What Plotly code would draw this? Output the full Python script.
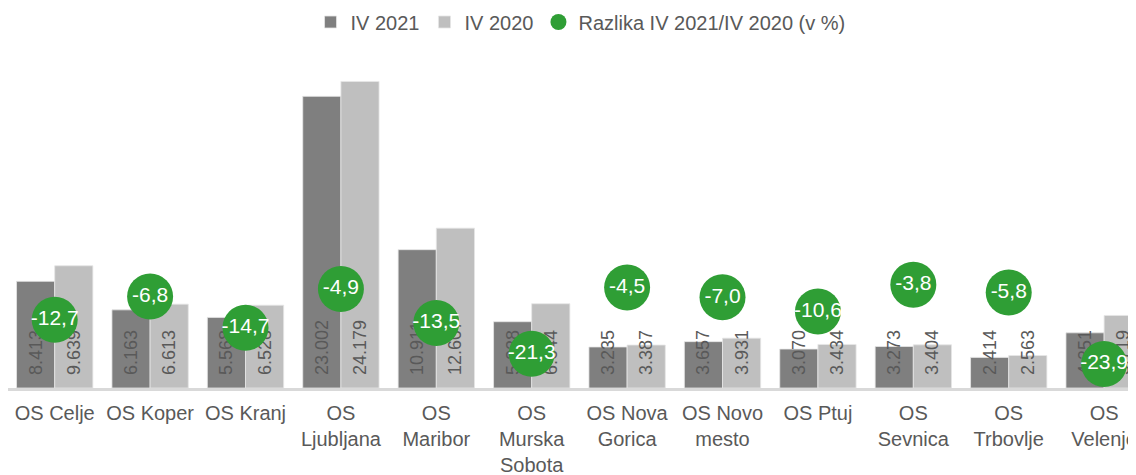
import plotly.graph_objects as go

categories = ["OS Celje", "OS Koper", "OS Kranj", "OS Ljubljana", "OS Maribor",
              "OS Murska Sobota", "OS Nova Gorica", "OS Novo mesto", "OS Ptuj",
              "OS Sevnica", "OS Trbovlje", "OS Velenje"]
tick_labels = ["OS Celje", "OS Koper", "OS Kranj", "OS<br>Ljubljana", "OS<br>Maribor",
               "OS<br>Murska<br>Sobota", "OS Nova<br>Gorica", "OS Novo<br>mesto", "OS Ptuj",
               "OS<br>Sevnica", "OS<br>Trbovlje", "OS<br>Velenje"]
iv2021 = [8413, 6163, 5568, 23002, 10911, 5228, 3235, 3657, 3070, 3273, 2414, 4351]
iv2020 = [9639, 6613, 6528, 24179, 12607, 6644, 3387, 3931, 3434, 3404, 2563, 5719]
razlika = [-12.7, -6.8, -14.7, -4.9, -13.5, -21.3, -4.5, -7.0, -10.6, -3.8, -5.8, -23.9]

DARK = "#7F7F7F"
LIGHT = "#BFBFBF"
GREEN = "#2F9E35"
TXT = "#595959"
FONT = "Liberation Sans, Arial, sans-serif"

x = list(range(len(categories)))
PAD = "\u00a0\u00a0"

def thou(v):
    return PAD + f"{v:,}".replace(",", ".")

def dec(v):
    return f"{v:.1f}".replace(".", ",")

bar_common = dict(textposition="inside", insidetextanchor="start", textangle=-90,
                  constraintext="none", cliponaxis=False,
                  insidetextfont=dict(color=TXT, size=18, family=FONT), hoverinfo="skip")

fig = go.Figure()
fig.add_trace(go.Bar(x=x, y=iv2021, name="IV 2021", text=[thou(v) for v in iv2021],
                     marker=dict(color=DARK, line=dict(color="#E6E6E6", width=0.8)), **bar_common))
fig.add_trace(go.Bar(x=x, y=iv2020, name="IV 2020", text=[thou(v) for v in iv2020],
                     marker=dict(color=LIGHT, line=dict(color="#E6E6E6", width=0.8)), **bar_common))
fig.add_trace(go.Scatter(x=x, y=razlika, name="Razlika IV 2021/IV 2020 (v %)", mode="markers",
                         marker=dict(color=GREEN, size=46), yaxis="y2"))
fig.add_trace(go.Scatter(x=x, y=razlika, mode="text", text=[dec(v) for v in razlika],
                         textfont=dict(color="white", size=21, family=FONT), yaxis="y2",
                         showlegend=False))

fig.update_layout(
    width=1136, height=475,
    margin=dict(l=0, r=0, t=0, b=95, autoexpand=False),
    paper_bgcolor="white", plot_bgcolor="white",
    barmode="group", bargap=0.2, bargroupgap=0,
    font=dict(family=FONT, color=TXT, size=20),
    legend=dict(orientation="h", x=0.504, xanchor="center", y=1 - 14 / 380, yanchor="middle",
                font=dict(size=20, color=TXT), traceorder="normal", bgcolor="rgba(0,0,0,0)"),
    xaxis=dict(range=[-0.4895, 11.418], tickvals=x, ticktext=tick_labels, showgrid=False,
               showline=True, linecolor="#D9D9D9", linewidth=3, ticks="", automargin=False,
               ticklabelstandoff=5,
               tickfont=dict(size=20, color=TXT), ticklabeloverflow="allow", fixedrange=True),
    yaxis=dict(range=[0, 29970], visible=False, showgrid=False),
    yaxis2=dict(range=[-30, 66.35], visible=False, overlaying="y", showgrid=False),
    showlegend=True,
)

fig.write_html("out.html")
